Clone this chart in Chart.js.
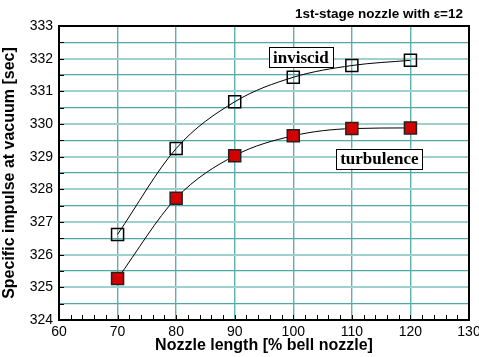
<!DOCTYPE html>
<html>
<head>
<meta charset="utf-8">
<script src="https://cdn.jsdelivr.net/npm/chart.js@4.4.1/dist/chart.umd.min.js"></script>
<style>
    html, body { margin: 0; padding: 0; background: #fff; }
    #caixa { width: 479px; height: 357px; }
</style>
</head>
<body>
<div id="caixa"><canvas id="grafico"></canvas></div>
<script>
// dados
const comprimentos = [70, 80, 90, 100, 110, 120];
const inviscid = [326.62, 329.25, 330.68, 331.43, 331.79, 331.95];
const turbulence = [325.27, 327.73, 329.03, 329.64, 329.86, 329.88];
const xTicks = [60, 70, 80, 90, 100, 110, 120, 130];
const yTicks = [324, 325, 326, 327, 328, 329, 330, 331, 332, 333];

const fonteSans = "'Liberation Sans', Arial, sans-serif";
const fonteSerif = "'Liberation Serif', 'Times New Roman', serif";

// moldura, ticks internos, titulo e rotulos das curvas
const moldura = {
    id: 'moldura',
    afterDraw(chart) {
        const { ctx, chartArea: a, scales: { x, y } } = chart;
        ctx.save();
        ctx.strokeStyle = '#000';
        ctx.lineWidth = 1;
        ctx.beginPath();
        for (let v = xTicks[0]; v <= xTicks[xTicks.length - 1]; v += 2) {
            const px = Math.round(x.getPixelForValue(v)) + 0.5;
            ctx.moveTo(px, a.bottom);
            ctx.lineTo(px, a.bottom - 5);
        }
        for (let v = yTicks[0]; v <= yTicks[yTicks.length - 1]; v += 0.5) {
            const py = Math.round(y.getPixelForValue(v)) + 0.5;
            ctx.moveTo(a.left, py);
            ctx.lineTo(a.left + 5, py);
        }
        ctx.stroke();

        ctx.lineWidth = 2;
        ctx.strokeRect(a.left, a.top, a.right - a.left, a.bottom - a.top);

        ctx.fillStyle = '#000';
        ctx.font = 'bold 13.5px ' + fonteSans;
        ctx.textAlign = 'right';
        ctx.textBaseline = 'middle';
        ctx.fillText('1st-stage nozzle with \u03b5=12', a.right - 6, 14);

        const rotulos = [['inviscid', 101.3, 332.04], ['turbulence', 114.7, 328.94]];
        ctx.font = 'bold 17px ' + fonteSerif;
        ctx.textAlign = 'center';
        rotulos.forEach(([texto, vx, vy]) => {
            const cx = x.getPixelForValue(vx);
            const cy = y.getPixelForValue(vy);
            const w = ctx.measureText(texto).width + 8;
            const h = 20;
            ctx.fillStyle = '#fff';
            ctx.fillRect(cx - w / 2, cy - h / 2, w, h);
            ctx.lineWidth = 1;
            ctx.strokeStyle = '#000';
            ctx.strokeRect(Math.round(cx - w / 2) + 0.5, Math.round(cy - h / 2) + 0.5, Math.round(w), h);
            ctx.fillStyle = '#000';
            ctx.fillText(texto, cx, cy + 1);
        });
        ctx.restore();
    }
};

const ctx = document.getElementById('grafico').getContext('2d');
const grafico = new Chart(ctx, {
    type: 'line',
    data: {
        labels: comprimentos,
        datasets: [
            {
                label: 'inviscid',
                data: comprimentos.map((c, i) => ({ x: c, y: inviscid[i] })),
                borderColor: '#000',
                borderWidth: 1,
                cubicInterpolationMode: 'monotone',
                pointStyle: 'rect',
                pointRadius: 8.5,
                pointBorderWidth: 1.5,
                pointBorderColor: '#000',
                pointBackgroundColor: 'rgba(0,0,0,0)'
            },
            {
                label: 'turbulence',
                data: comprimentos.map((c, i) => ({ x: c, y: turbulence[i] })),
                borderColor: '#000',
                borderWidth: 1,
                cubicInterpolationMode: 'monotone',
                pointStyle: 'rect',
                pointRadius: 8.5,
                pointBorderWidth: 1.5,
                pointBorderColor: '#222',
                pointBackgroundColor: '#d40000'
            }
        ]
    },
    options: {
        responsive: true,
        maintainAspectRatio: false,
        animation: false,
        events: [],
        layout: { padding: { left: 0, top: 26, right: 10, bottom: 0 } },
        plugins: { legend: { display: false }, tooltip: { enabled: false } },
        scales: {
            x: {
                type: 'linear',
                min: 60,
                max: 130,
                afterBuildTicks: (s) => { s.ticks = xTicks.map(v => ({ value: v })); },
                afterFit: (s) => { s.height = 37; s.paddingLeft = 0; s.paddingRight = 0; },
                border: { display: false },
                grid: { color: '#5fb0b0', lineWidth: 1.4, drawTicks: false },
                ticks: { color: '#000', padding: 4, font: { family: fonteSans, size: 14 }, maxRotation: 0, autoSkip: false },
                title: {
                    display: true,
                    text: 'Nozzle length [% bell nozzle]',
                    color: '#000',
                    font: { family: fonteSans, size: 16, weight: 'bold' },
                    padding: { top: 0, bottom: 2 }
                }
            },
            y: {
                type: 'linear',
                min: 324,
                max: 333,
                // linhas inteiras com rotulo e linhas intermediarias em cada meio valor
                afterBuildTicks: (s) => {
                    const t = [];
                    yTicks.forEach((v, i) => {
                        t.push({ value: v });
                        if (i < yTicks.length - 1) t.push({ value: (v + yTicks[i + 1]) / 2 });
                    });
                    s.ticks = t;
                },
                ticks: {
                    autoSkip: false,
                    color: '#000',
                    padding: 6,
                    font: { family: fonteSans, size: 14 },
                    callback: (v) => (yTicks.includes(v) ? String(v) : ' ')
                },
                afterFit: (s) => { s.width = 59; s.paddingTop = 0; s.paddingBottom = 0; },
                border: { display: false },
                grid: {
                    drawTicks: false,
                    lineWidth: (c) => (yTicks.includes(c.tick.value) ? 2 : 1.2),
                    color: (c) => (yTicks.includes(c.tick.value) ? '#9fd0d0' : '#4fa8a8')
                },
                title: {
                    display: true,
                    text: 'Specific impulse at vacuum [sec]',
                    color: '#000',
                    font: { family: fonteSans, size: 16, weight: 'bold' },
                    padding: { top: 0, bottom: 0 }
                }
            }
        }
    },
    plugins: [moldura]
});
</script>
</body>
</html>
